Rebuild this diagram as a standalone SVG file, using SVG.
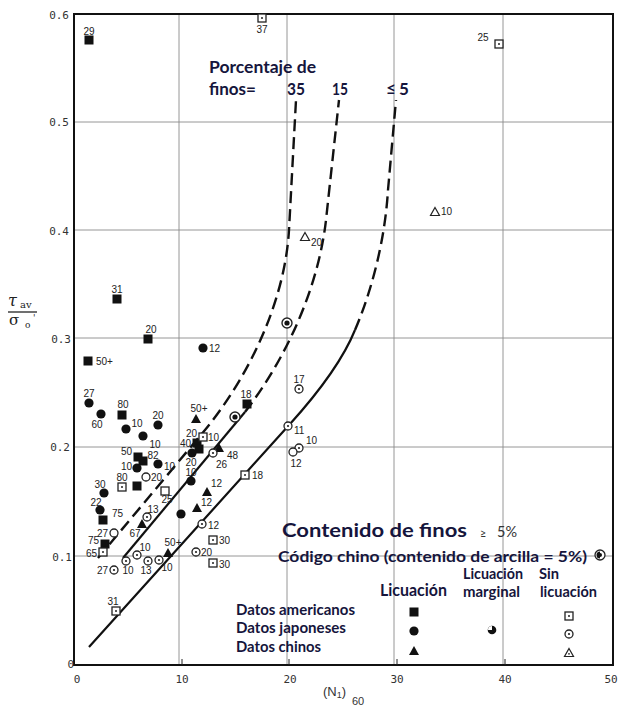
<svg xmlns="http://www.w3.org/2000/svg" xmlns:xlink="http://www.w3.org/1999/xlink" width="618" height="706" viewBox="0 0 618 706">
<style>
.grid{stroke:#8a8a8a;stroke-width:0.9;fill:none}
.frame{stroke:#111;stroke-width:2;fill:none}
.tick{font-family:"DejaVu Sans Mono","Liberation Mono",monospace;font-size:11px;fill:#333}
.lab{font-family:"Liberation Sans",Arial,sans-serif;font-size:10px;fill:#222}
.blue{font-family:Lato,"Open Sans",sans-serif;font-weight:bold;fill:#15153c}
.solid{stroke:#111;stroke-width:2.2;fill:none}
.dash{stroke:#111;stroke-width:2.4;fill:none;stroke-dasharray:12 6}
</style>
<defs>
<rect id="sqF" x="-4.5" y="-4.5" width="9" height="9" fill="#111"/>
<circle id="ciF" r="4.6" fill="#111"/>
<polygon id="trF" points="0,-5 5,4 -5,4" fill="#111"/>
<g id="sqO"><rect x="-4" y="-4" width="8" height="8" fill="#fff" stroke="#222" stroke-width="1.3"/><circle r="1" fill="#222"/></g>
<rect id="sqE" x="-4" y="-4" width="8" height="8" fill="#fff" stroke="#222" stroke-width="1.3"/>
<g id="ciO"><circle r="4" fill="#fff" stroke="#222" stroke-width="1.3"/><circle r="1.1" fill="#222"/></g>
<circle id="ciE" r="4" fill="#fff" stroke="#222" stroke-width="1.3"/>
<g id="trO"><polygon points="0,-4.5 4.5,3.5 -4.5,3.5" fill="#fff" stroke="#222" stroke-width="1.2"/><circle cy="0.8" r="0.9" fill="#222"/></g>
<polygon id="trE" points="0,-4.5 4.5,3.5 -4.5,3.5" fill="#fff" stroke="#222" stroke-width="1.2"/>
<g id="mg"><circle r="5" fill="#fff" stroke="#222" stroke-width="1.4"/><circle r="2.6" fill="#111"/></g>
</defs>
<rect width="618" height="706" fill="#fff"/>

<g id="axes">
<path class="grid" d="M179,14V665M287,14V665M394,14V665M503,14V665M74,122H613M74,230H613M74,338H613M74,447H613M74,556H613"/>
<rect class="frame" x="74" y="14" width="539" height="651"/>
<path d="M182,665v-6M289,665v-6M397,665v-6M505,665v-6" stroke="#222" stroke-width="1"/>
<g class="tick" text-anchor="end">
<text x="69" y="19">0.6</text><text x="69" y="126">0.5</text><text x="69" y="235">0.4</text>
<text x="71" y="343">0.3</text><text x="70" y="451">0.2</text><text x="72" y="561">0.1</text><text x="74" y="668">0</text>
</g>
<g class="tick" text-anchor="middle">
<text x="77" y="683">0</text><text x="182" y="683">10</text><text x="290" y="683">20</text>
<text x="397" y="683">30</text><text x="505" y="683">40</text><text x="611" y="683">50</text>
</g>
<text x="323" y="696" font-family="Liberation Sans,Arial,sans-serif" font-size="13" fill="#333">(N<tspan font-size="9" dy="2">1</tspan><tspan dy="-2">)</tspan></text>
<text x="352" y="705" font-family="Liberation Sans,Arial,sans-serif" font-size="11" fill="#333">60</text>
<g id="ylabel" font-family="DejaVu Serif,Liberation Serif,serif" fill="#222">
<text x="8" y="306" font-size="16" font-style="italic">τ</text><text x="20" y="308" font-size="10">av</text>
<line x1="8" y1="312" x2="37" y2="312" stroke="#222" stroke-width="1.3"/>
<text x="9" y="325" font-size="15">σ</text><text x="25" y="328" font-size="9">o</text><text x="33" y="321" font-size="9">'</text>
</g>
</g>

<g id="connectors">
<path class="dash" d="M98,558 L205,430 C250,375 285,300 289,230 L296,100"/>
<path class="solid" d="M123,558 L245,412"/>
<path class="dash" d="M245,412 C285,360 318,290 326,220 L339,100"/>
<path class="solid" d="M89,647 L290,424 C318,393 342,362 355,330"/>
<path class="dash" d="M355,330 C372,290 385,240 388,190 L396,100"/>
</g>

<g id="curve-labels" class="blue" font-size="17">
<text x="209" y="73" textLength="107" lengthAdjust="spacingAndGlyphs">Porcentaje de</text>
<text x="209" y="95" textLength="47" lengthAdjust="spacingAndGlyphs">finos=</text>
<text x="287" y="95" textLength="18" lengthAdjust="spacingAndGlyphs">35</text>
<text x="332" y="95" textLength="16" lengthAdjust="spacingAndGlyphs">15</text>
<text x="386" y="95">≤</text><text x="399" y="95">5</text>
</g>

<g id="points" class="lab">
<g id="p1"><use href="#sqF" x="89" y="40"/><text x="89" y="35" text-anchor="middle">29</text></g>
<g id="p2"><use href="#sqF" x="117" y="299"/><text x="117" y="293" text-anchor="middle">31</text></g>
<g id="p3"><use href="#sqF" x="148" y="339"/><text x="151" y="333" text-anchor="middle">20</text></g>
<g id="p4"><use href="#sqF" x="88" y="361"/><text x="96" y="365">50+</text></g>
<g id="p5"><use href="#sqF" x="122" y="415"/><text x="123" y="408" text-anchor="middle">80</text></g>
<g id="p6"><use href="#sqF" x="247" y="404"/><text x="246" y="398" text-anchor="middle">18</text></g>
<g id="p7"><use href="#sqF" x="138" y="457"/><use href="#sqF" x="143" y="461"/><text x="132" y="455" text-anchor="end">50</text></g>
<g id="p8"><use href="#sqF" x="137" y="486"/></g>
<g id="p9"><use href="#sqF" x="103" y="520"/><text x="112" y="517">75</text></g>
<g id="p10"><use href="#sqF" x="105" y="544"/><text x="99" y="544" text-anchor="end">75</text></g>
<g id="p11"><use href="#sqF" x="197" y="443"/><use href="#sqF" x="199" y="449"/><text x="191" y="447" text-anchor="end">40</text></g>

<g id="c1"><use href="#ciF" x="89" y="403"/><text x="89" y="397" text-anchor="middle">27</text></g>
<g id="c2"><use href="#ciF" x="101" y="414"/><text x="97" y="428" text-anchor="middle">60</text></g>
<g id="c3"><use href="#ciF" x="126" y="429"/><text x="137" y="427" text-anchor="middle">10</text></g>
<g id="c4"><use href="#ciF" x="143" y="436"/><text x="155" y="448" text-anchor="middle">10</text></g>
<g id="c5"><use href="#ciF" x="158" y="425"/><text x="158" y="419" text-anchor="middle">20</text></g>
<g id="c6"><use href="#ciF" x="137" y="468"/><text x="132" y="470" text-anchor="end">10</text></g>
<g id="c7"><use href="#ciF" x="158" y="464"/><text x="153" y="459" text-anchor="middle">82</text><text x="164" y="470">10</text></g>
<g id="c8"><use href="#ciF" x="104" y="493"/><text x="100" y="488" text-anchor="middle">30</text></g>
<g id="c9"><use href="#ciF" x="100" y="510"/><text x="96" y="506" text-anchor="middle">22</text></g>
<g id="c10"><use href="#ciF" x="192" y="453"/></g>
<g id="c11"><use href="#ciF" x="191" y="481"/><text x="191" y="466" text-anchor="middle">20</text><text x="191" y="476" text-anchor="middle">10</text></g>
<g id="c12"><use href="#ciF" x="181" y="514"/></g>
<g id="c13"><use href="#ciF" x="203" y="348"/><text x="209" y="352">12</text></g>

<g id="t1"><use href="#trF" x="196" y="419"/><text x="199" y="412" text-anchor="middle">50+</text></g>
<g id="t2"><use href="#trF" x="219" y="448"/><text x="227" y="459">48</text></g>
<g id="t3"><use href="#trF" x="207" y="492"/><text x="211" y="487">12</text></g>
<g id="t4"><use href="#trF" x="197" y="508"/><text x="201" y="506">12</text></g>
<g id="t5"><use href="#trF" x="142" y="524"/><text x="135" y="537" text-anchor="middle">67</text></g>
<g id="t6"><use href="#trF" x="168" y="553"/><text x="173" y="546" text-anchor="middle">50+</text></g>

<g id="s1"><use href="#sqO" x="262" y="18"/><text x="262" y="33" text-anchor="middle">37</text></g>
<g id="s2"><use href="#sqO" x="499" y="44"/><text x="483" y="41" text-anchor="middle">25</text></g>
<g id="s3"><use href="#sqO" x="122" y="487"/><text x="122" y="481" text-anchor="middle">80</text></g>
<g id="s4"><use href="#sqE" x="165" y="491"/><text x="167" y="503" text-anchor="middle">25</text></g>
<g id="s5"><use href="#sqO" x="103" y="552"/><text x="97" y="557" text-anchor="end">65</text></g>
<g id="s6"><use href="#sqO" x="116" y="611"/><text x="113" y="605" text-anchor="middle">31</text></g>
<g id="s7"><use href="#sqO" x="245" y="475"/><text x="252" y="479">18</text></g>
<g id="s8"><use href="#sqO" x="213" y="540"/><text x="219" y="544">30</text></g>
<g id="s9"><use href="#sqO" x="213" y="563"/><text x="219" y="568">30</text></g>
<g id="s10"><use href="#sqO" x="203" y="437"/><text x="197" y="437" text-anchor="end">20</text><text x="208" y="441">10</text></g>

<g id="o1"><use href="#ciO" x="299" y="389"/><text x="299" y="383" text-anchor="middle">17</text></g>
<g id="o2"><use href="#ciO" x="288" y="426"/><text x="294" y="434">11</text></g>
<g id="o3"><use href="#ciO" x="299" y="448"/><text x="306" y="444">10</text></g>
<g id="o4"><use href="#ciE" x="293" y="452"/><text x="296" y="467" text-anchor="middle">12</text></g>
<g id="o5"><use href="#ciO" x="213" y="453"/><text x="216" y="468">26</text></g>
<g id="o6"><use href="#ciO" x="202" y="524"/><text x="208" y="529">12</text></g>
<g id="o7"><use href="#ciO" x="196" y="552"/><text x="201" y="556">20</text></g>
<g id="o8"><use href="#ciO" x="147" y="517"/><text x="153" y="513" text-anchor="middle">13</text></g>
<g id="o9"><use href="#ciE" x="114" y="533"/><text x="108" y="537" text-anchor="end">27</text></g>
<g id="o10"><use href="#ciO" x="114" y="570"/><text x="108" y="574" text-anchor="end">27</text></g>
<g id="o11"><use href="#ciO" x="126" y="561"/><text x="128" y="574" text-anchor="middle">10</text></g>
<g id="o12"><use href="#ciO" x="137" y="555"/><text x="145" y="551" text-anchor="middle">10</text></g>
<g id="o13"><use href="#ciO" x="148" y="561"/><text x="146" y="574" text-anchor="middle">13</text></g>
<g id="o14"><use href="#ciO" x="159" y="560"/><text x="167" y="571" text-anchor="middle">10</text></g>
<g id="o15"><use href="#ciE" x="146" y="477"/><text x="151" y="481">20</text></g>

<g id="m1"><use href="#mg" x="287" y="323"/></g>
<g id="m2"><use href="#mg" x="235" y="417"/></g>

<g id="u1"><use href="#trE" x="305" y="237"/><text x="311" y="246">20</text></g>
<g id="u2"><use href="#trE" x="435" y="212"/><text x="441" y="215">10</text></g>
</g>

<g id="legend">
<text class="blue" x="282" y="537" font-size="19" textLength="185" lengthAdjust="spacingAndGlyphs">Contenido de finos</text>
<text x="480" y="537" font-family="Lato,sans-serif" font-size="11" fill="#333">≥</text>
<text x="497" y="537" font-family="Lato,sans-serif" font-size="15" fill="#333" textLength="20" lengthAdjust="spacingAndGlyphs">5%</text>
<text class="blue" x="278" y="562" font-size="16" textLength="309" lengthAdjust="spacingAndGlyphs">Código chino (contenido de arcilla = 5%)</text>
<g id="codigo-symbol"><circle cx="600" cy="555" r="5" fill="#fff" stroke="#222" stroke-width="1.3"/><path d="M600,551.5 A3.5,3.5 0 0 0 600,558.5 Z" fill="#111"/><circle cx="600" cy="555" r="2" fill="#111"/></g>
<text class="blue" x="380" y="596" font-size="17" textLength="67" lengthAdjust="spacingAndGlyphs">Licuación</text>
<text class="blue" x="463" y="579" font-size="15" textLength="60" lengthAdjust="spacingAndGlyphs">Licuación</text>
<text class="blue" x="463" y="597" font-size="15" textLength="57" lengthAdjust="spacingAndGlyphs">marginal</text>
<text class="blue" x="539" y="579" font-size="15" textLength="20" lengthAdjust="spacingAndGlyphs">Sin</text>
<text class="blue" x="540" y="597" font-size="15" textLength="57" lengthAdjust="spacingAndGlyphs">licuación</text>
<text class="blue" x="236" y="615" font-size="15" textLength="119" lengthAdjust="spacingAndGlyphs">Datos americanos</text>
<text class="blue" x="236" y="633" font-size="15" textLength="110" lengthAdjust="spacingAndGlyphs">Datos japoneses</text>
<text class="blue" x="236" y="652" font-size="15" textLength="85" lengthAdjust="spacingAndGlyphs">Datos chinos</text>
<use href="#sqF" x="414" y="612"/>
<use href="#ciF" x="414" y="631"/>
<use href="#trF" x="414" y="651"/>
<g id="marginal-symbol"><circle cx="492" cy="630" r="4.3" fill="#111"/><path d="M492,630 L492,626 A4,4 0 0 0 488,630 Z" fill="#fff"/></g>
<use href="#sqO" x="569" y="616"/>
<use href="#ciO" x="569" y="634"/>
<use href="#trO" x="569" y="653"/>
</g>
</svg>
